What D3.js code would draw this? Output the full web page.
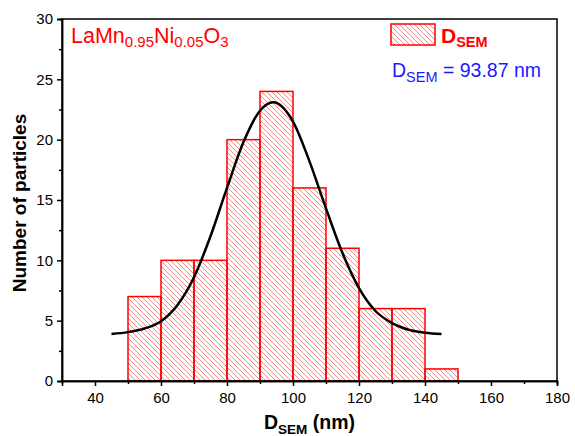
<!DOCTYPE html>
<html>
<head>
<meta charset="utf-8">
<script src="https://cdn.jsdelivr.net/npm/d3@7"></script>
<style>
  body { margin: 0; background: #fff; }
  text { font-family: "Liberation Sans", Arial, sans-serif; }
</style>
</head>
<body>
<div id="chart"></div>
<script>
// histogram bins (nm) and counts
const binStarts = [50, 60, 70, 80, 90, 100, 110, 120, 130, 140];
const binWidth = 10;
const counts = [7, 10, 10, 20, 24, 16, 11, 6, 6, 1];

// fitted curve
const fitX = [45, 50, 55, 60, 65, 70, 75, 80, 85, 90, 94, 100, 105, 110, 115, 120, 125, 130, 135, 140, 145];
const fitY = [3.9, 4.05, 4.35, 4.95, 6.3, 8.6, 12.0, 16.0, 19.8, 22.4, 23.1, 21.5, 18.2, 14.3, 10.6, 7.7, 5.8, 4.8, 4.25, 4.0, 3.9];

const xTicks = [40, 60, 80, 100, 120, 140, 160, 180];
const yTicks = [0, 5, 10, 15, 20, 25, 30];

const W = 575, H = 436;
const margin = { left: 62, right: 18, top: 19, bottom: 55 };

const svg = d3.select("#chart").append("svg")
  .attr("width", W).attr("height", H);

const x = d3.scaleLinear().domain([30, 180]).range([margin.left, W - margin.right]);
const y = d3.scaleLinear().domain([0, 30]).range([H - margin.bottom, margin.top]);

// hatch pattern
const defs = svg.append("defs");
defs.append("pattern")
  .attr("id", "hatch")
  .attr("patternUnits", "userSpaceOnUse")
  .attr("width", 5).attr("height", 5)
  .append("path")
  .attr("d", "M0,0 L5,5 M-1,4 L1,6 M4,-1 L6,1")
  .attr("stroke", "#ff5a5a")
  .attr("stroke-opacity", 0.8)
  .attr("stroke-width", 0.9);

// bars
svg.append("g").selectAll("rect")
  .data(counts)
  .join("rect")
  .attr("x", (d, i) => x(binStarts[i]))
  .attr("width", (d, i) => x(binStarts[i] + binWidth) - x(binStarts[i]))
  .attr("y", d => y(d))
  .attr("height", d => y(0) - y(d))
  .attr("fill", "url(#hatch)")
  .attr("stroke", "#ff0000")
  .attr("stroke-width", 1.5);

// fit line
const line = d3.line()
  .x((d, i) => x(fitX[i]))
  .y(d => y(d))
  .curve(d3.curveMonotoneX);
svg.append("path")
  .datum(fitY)
  .attr("d", line)
  .attr("fill", "none")
  .attr("stroke", "#000")
  .attr("stroke-width", 2.5);

// frame
svg.append("rect")
  .attr("x", margin.left).attr("y", margin.top)
  .attr("width", W - margin.right - margin.left)
  .attr("height", H - margin.bottom - margin.top)
  .attr("fill", "none")
  .attr("stroke", "#000")
  .attr("stroke-width", 1.5);

// axes
svg.append("g")
  .attr("transform", `translate(0,${y(0)})`)
  .call(d3.axisBottom(x).tickValues(xTicks).tickSize(5).tickPadding(6).tickFormat(d3.format("d")));
svg.append("g")
  .attr("transform", `translate(0,${y(0)})`)
  .call(d3.axisBottom(x).tickValues(d3.range(50, 180, 20)).tickSize(3).tickFormat(""));
svg.append("g")
  .attr("transform", `translate(${x(30)},0)`)
  .call(d3.axisLeft(y).tickValues(yTicks).tickSize(5).tickPadding(4).tickFormat(d3.format("d")));
svg.append("g")
  .attr("transform", `translate(${x(30)},0)`)
  .call(d3.axisLeft(y).tickValues(d3.range(2.5, 30, 5)).tickSize(3).tickFormat(""));

svg.selectAll(".domain").attr("stroke", "#000").attr("stroke-width", 1.5);
svg.selectAll(".tick line").attr("stroke", "#000").attr("stroke-width", 1.5);
svg.selectAll(".tick text").attr("font-size", 15).attr("fill", "#000")
  .style("font-family", "'Liberation Sans', Arial, sans-serif");

// axis titles
svg.append("text")
  .attr("transform", `translate(26,${(margin.top + H - margin.bottom) / 2 + 3}) rotate(-90)`)
  .attr("text-anchor", "middle")
  .attr("font-size", 19).attr("font-weight", "bold")
  .text("Number of particles");

const xt = svg.append("text")
  .attr("x", x(105)).attr("y", 429)
  .attr("text-anchor", "middle")
  .attr("font-size", 19.5).attr("font-weight", "bold");
xt.append("tspan").text("D");
xt.append("tspan").attr("font-size", 13.5).attr("dy", 5).text("SEM");
xt.append("tspan").attr("dy", -5).text(" (nm)");

// sample label
const lab = svg.append("text")
  .attr("x", 71).attr("y", 43)
  .attr("font-size", 21.5).attr("fill", "#ff0000");
lab.append("tspan").text("LaMn");
lab.append("tspan").attr("font-size", 15).attr("dy", 4).text("0.95");
lab.append("tspan").attr("dy", -4).text("Ni");
lab.append("tspan").attr("font-size", 15).attr("dy", 4).text("0.05");
lab.append("tspan").attr("dy", -4).text("O");
lab.append("tspan").attr("font-size", 15).attr("dy", 4).text("3");

// legend
svg.append("rect")
  .attr("x", 391).attr("y", 24).attr("width", 44).attr("height", 21)
  .attr("fill", "url(#hatch)")
  .attr("stroke", "#ff0000").attr("stroke-width", 1.5);
const lg = svg.append("text")
  .attr("x", 441).attr("y", 43)
  .attr("font-size", 21).attr("font-weight", "bold").attr("fill", "#ff0000");
lg.append("tspan").text("D");
lg.append("tspan").attr("font-size", 14.5).attr("dy", 4).text("SEM");

const mean = svg.append("text")
  .attr("x", 392).attr("y", 77)
  .attr("font-size", 19.5).attr("fill", "#1a1aff");
mean.append("tspan").text("D");
mean.append("tspan").attr("font-size", 14.5).attr("dy", 4.5).text("SEM");
mean.append("tspan").attr("dy", -4.5).text(" = 93.87 nm");
</script>
</body>
</html>
